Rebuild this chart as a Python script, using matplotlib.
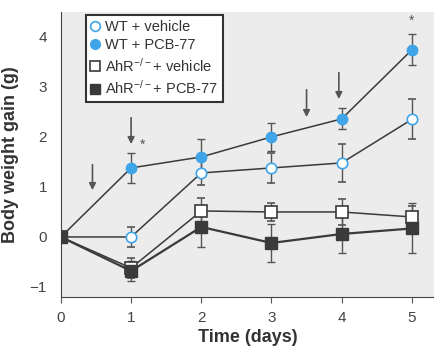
import matplotlib
matplotlib.use("Agg")
import matplotlib.pyplot as plt
from matplotlib.lines import Line2D
import numpy as np

days = [0, 1, 2, 3, 4, 5]
wt_veh = [0, 0.0, 1.28, 1.38, 1.48, 2.35]
wt_veh_err = [0, 0.2, 0.25, 0.3, 0.38, 0.4]
wt_pcb = [0, 1.38, 1.6, 2.0, 2.36, 3.74]
wt_pcb_err = [0, 0.3, 0.36, 0.28, 0.21, 0.31]
ahr_veh = [0, -0.62, 0.52, 0.5, 0.5, 0.4]
ahr_veh_err = [0, 0.2, 0.26, 0.18, 0.26, 0.22]
ahr_pcb = [0, -0.68, 0.2, -0.12, 0.06, 0.17]
ahr_pcb_err = [0, 0.2, 0.4, 0.38, 0.38, 0.5]

labels = ["WT + vehicle", "WT + PCB-77", r"AhR$^{-/-}$+ vehicle", r"AhR$^{-/-}$+ PCB-77"]
arrows_x = [0.45, 1.0, 3.5, 3.96]
arrows_top = [1.5, 2.44, 3.0, 3.34]
arrows_tip = [0.88, 1.8, 2.34, 2.7]
stars = [(1.16, 1.85), (5.0, 4.32)]

plt.rcParams['font.family'] = ['Liberation Sans', 'DejaVu Sans']
plt.rcParams['mathtext.default'] = 'regular'
fig = plt.figure(figsize=(4.35, 3.49), dpi=100)
ax = fig.add_axes([0.14, 0.149, 0.86, 0.817])
ax.set_facecolor('#ececec')

blue = '#3fa4e8'
dark = '#3a3a3a'
ecol = '#555555'

ax.errorbar(days, wt_veh, yerr=wt_veh_err, color=dark, lw=1.1, ecolor=ecol, elinewidth=1,
            capsize=3, marker='o', ms=7.5, mfc='white', mec=blue, mew=1.2, zorder=3)
ax.errorbar(days, wt_pcb, yerr=wt_pcb_err, color=dark, lw=1.1, ecolor=ecol, elinewidth=1,
            capsize=3, marker='o', ms=7.5, mfc=blue, mec=blue, zorder=3)
ax.errorbar(days, ahr_veh, yerr=ahr_veh_err, color=dark, lw=1.1, ecolor=ecol, elinewidth=1,
            capsize=3, marker='s', ms=8, mfc='white', mec=dark, mew=1.2, zorder=3)
ax.errorbar(days, ahr_pcb, yerr=ahr_pcb_err, color=dark, lw=1.6, ecolor=ecol, elinewidth=1,
            capsize=3, marker='s', ms=8, mfc=dark, mec=dark, zorder=3)

for x, yt, yb in zip(arrows_x, arrows_top, arrows_tip):
    ax.annotate('', xy=(x, yb), xytext=(x, yt),
                arrowprops=dict(arrowstyle='-|>', color='#555555', lw=1.2, mutation_scale=10))
for x, y in stars:
    ax.text(x, y, '*', ha='center', va='center', fontsize=10, color='#555555')

ax.set_xlim(0, 5.33)
ax.set_ylim(-1.2, 4.5)
ax.set_xticks(days)
ax.set_yticks([-1, 0, 1, 2, 3, 4])
ax.set_yticklabels(['\u22121', '0', '1', '2', '3', '4'])
ax.tick_params(axis='y', length=0, pad=10, labelsize=11, labelcolor='#444444')
ax.tick_params(axis='x', length=4, direction='out', color='#555555', pad=6, labelsize=11, labelcolor='#444444')
for s in ['top', 'right']:
    ax.spines[s].set_visible(False)
ax.spines['left'].set_color('#444444')
ax.spines['bottom'].set_color('#444444')
ax.set_xlabel('Time (days)', fontsize=13, fontweight='bold', color='#333333', labelpad=3)
ax.set_ylabel('Body weight gain (g)', fontsize=13, fontweight='bold', color='#333333', labelpad=8)

handles = [
    Line2D([], [], ls='none', marker='o', ms=7, mfc='white', mec=blue, mew=1.2),
    Line2D([], [], ls='none', marker='o', ms=7, mfc=blue, mec=blue),
    Line2D([], [], ls='none', marker='s', ms=7, mfc='white', mec=dark, mew=1.2),
    Line2D([], [], ls='none', marker='s', ms=7, mfc=dark, mec=dark),
]
leg = ax.legend(handles, labels, loc='upper left', bbox_to_anchor=(0.066, 0.99), fontsize=10.5,
                frameon=True, fancybox=False, edgecolor='#333333', handlelength=0.6,
                handletextpad=0.4, borderpad=0.35, labelspacing=0.3, borderaxespad=0,
                framealpha=1)
leg.get_frame().set_linewidth(1.5)
for t in leg.get_texts():
    t.set_color('#333333')

fig.savefig('out.png', dpi=100)
